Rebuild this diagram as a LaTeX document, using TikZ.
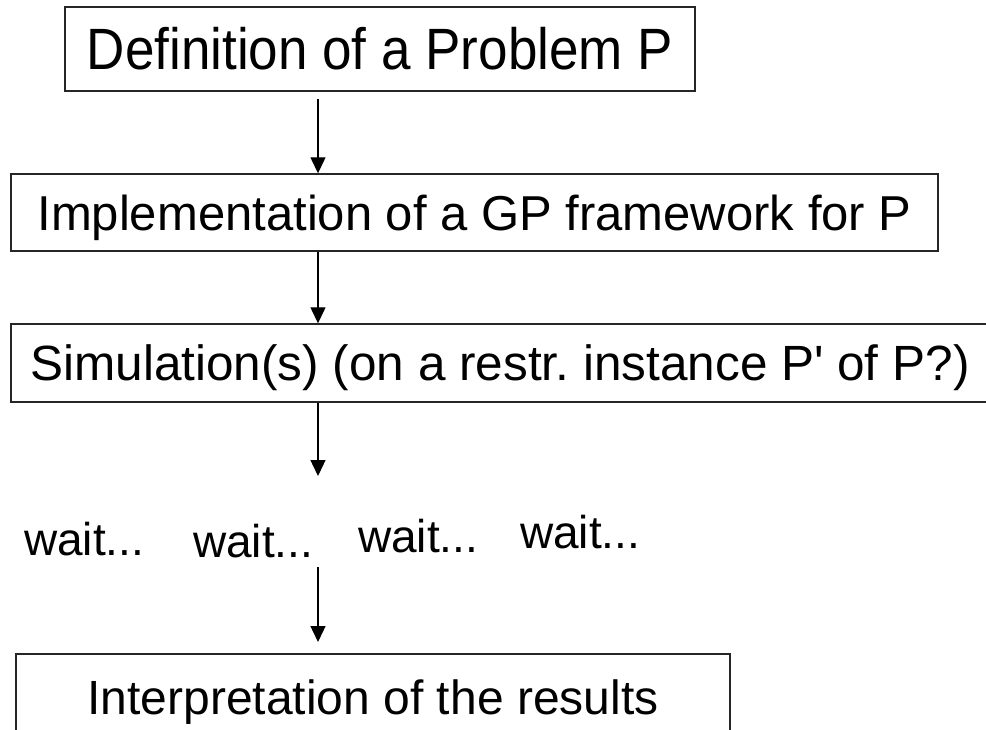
\documentclass[tikz,border=0pt]{standalone}
\usepackage{fontspec}
\setmainfont{Liberation Sans}
\usetikzlibrary{arrows.meta}
\frenchspacing
\begin{document}
\begin{tikzpicture}[x=1pt,y=-1pt,
  box/.style={draw=black!85,line width=1.4pt,inner sep=0pt,align=center,text depth=0pt},
  arr/.style={line width=1.3pt,-{Triangle[length=16pt,width=15pt]}},
  waittext/.style={inner sep=0pt,anchor=base west,font=\fontsize{46}{50}\selectfont}]
\useasboundingbox (0,0) rectangle (986,729);
\node[box,minimum width=630pt,minimum height=84pt,text height=41.5pt,
      font=\fontsize{53}{60}\selectfont] (b1) at (380,49) {\scalebox{1}[1.1]{Definition of a Problem P}};
\node[box,minimum width=927pt,minimum height=77pt,text height=35pt,
      font=\fontsize{49}{56}\selectfont] (b2) at (474.5,212.5) {Implementation of a GP framework for P};
\node[box,minimum width=978pt,minimum height=78pt,text height=35pt,
      font=\fontsize{49.5}{56}\selectfont] (b3) at (500,363) {Simulation(s) (on a restr. instance P\textquotesingle{} of P?)};
\node[box,minimum width=714pt,minimum height=86pt,text height=34pt,
      font=\fontsize{48}{56}\selectfont] (b4) at (373,697) {Interpretation of the results};
\node[waittext] (w1) at (24,555) {wait...};
\node[waittext] (w2) at (193,557) {wait...};
\node[waittext] (w3) at (358,552) {wait...};
\node[waittext] (w4) at (520,548) {wait...};
\coordinate (a1s) at (318,99);
\coordinate (a2s) at (318,251);
\coordinate (a3e) at (318,476);
\coordinate (a4s) at (318,567);
\coordinate (a4e) at (318,642);
\draw[arr] (a1s) -- (a1s |- b2.north);
\draw[arr] (a2s |- b2.south) -- (a2s |- b3.north);
\draw[arr] (a2s |- b3.south) -- (a3e);
\draw[arr] (a4s) -- (a4e);
\end{tikzpicture}
\end{document}
